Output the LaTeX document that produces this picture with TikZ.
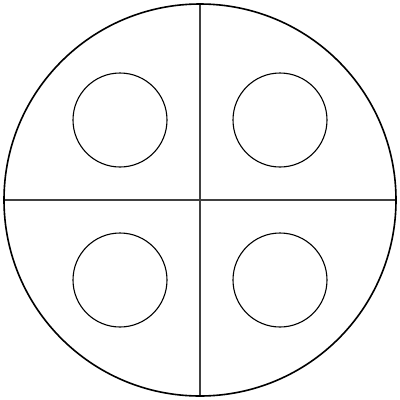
\documentclass[tikz,border=0pt]{standalone}
\begin{document}
\begin{tikzpicture}[x=1pt,y=-1pt,
  outer/.style={draw=black,line width=1.6pt},
  divider/.style={draw=black!75,line width=1.1pt},
  hole/.style={draw=black,line width=1.1pt}]
\useasboundingbox (0,0) rectangle (400,400);
\draw[divider] (200,4) -- (200,396);
\draw[divider] (4,200) -- (396,200);
\draw[outer] (200,200) circle[radius=196];
\draw[hole] (120,120) circle[radius=47];
\draw[hole] (280,120) circle[radius=47];
\draw[hole] (120,280) circle[radius=47];
\draw[hole] (280,280) circle[radius=47];
\end{tikzpicture}
\end{document}
